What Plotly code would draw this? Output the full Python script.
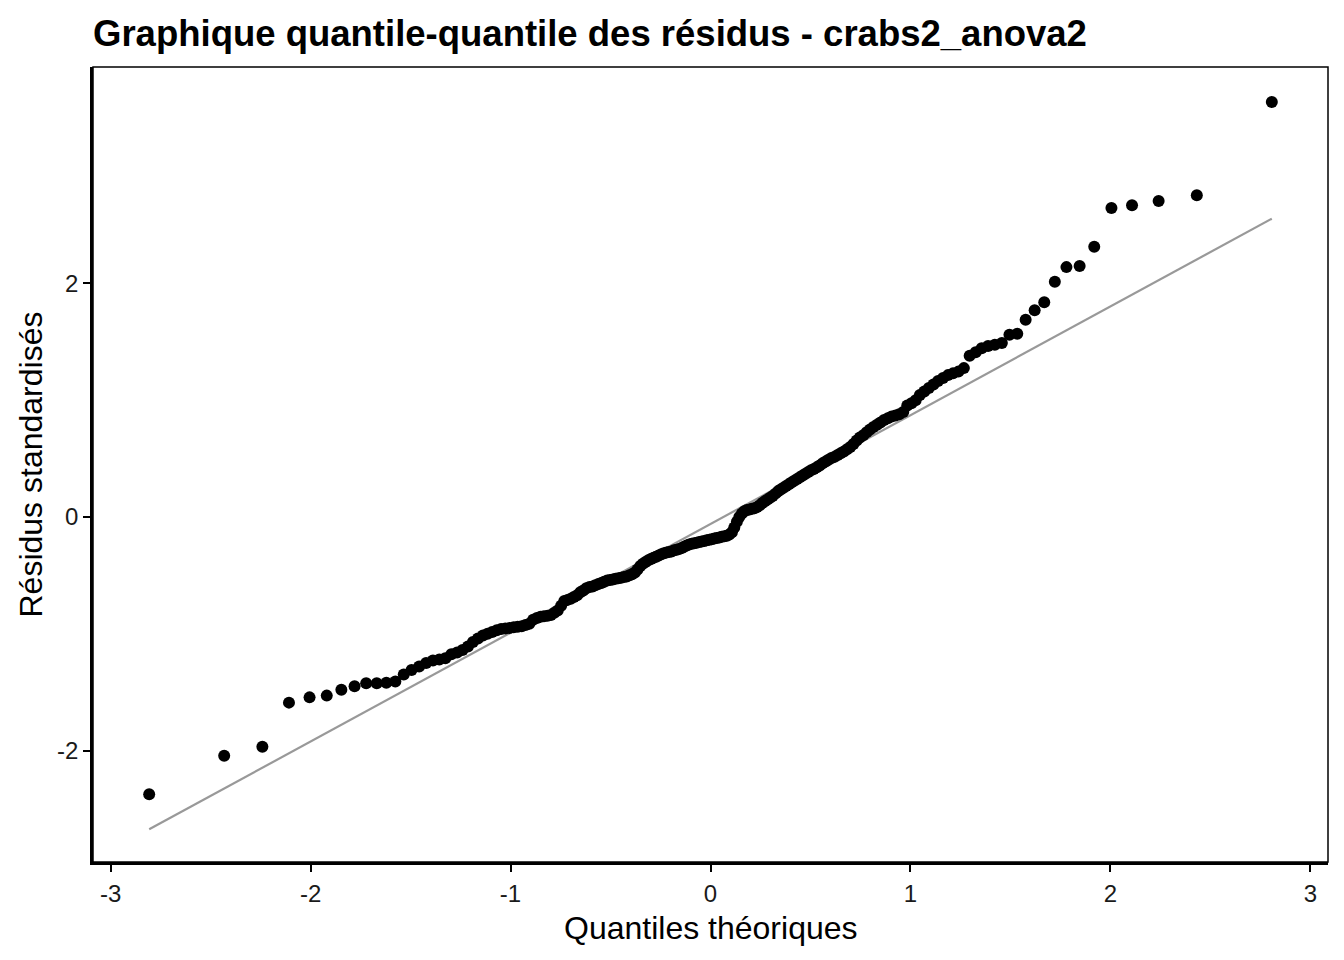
import plotly.graph_objects as go

# Theoretical normal quantiles (x) and sorted standardized residuals (y)
theoretical_quantiles = [
    -2.807, -2.432, -2.241, -2.108, -2.005, -1.919, -1.846, -1.780, -1.722, -1.669,
    -1.621, -1.576, -1.534, -1.495, -1.457, -1.422, -1.388, -1.356, -1.326, -1.296,
    -1.267, -1.240, -1.213, -1.188, -1.163, -1.138, -1.115, -1.092, -1.069, -1.047,
    -1.026, -1.005, -0.984, -0.964, -0.944, -0.925, -0.906, -0.887, -0.868, -0.850,
    -0.833, -0.815, -0.798, -0.781, -0.764, -0.747, -0.731, -0.715, -0.699, -0.683,
    -0.667, -0.651, -0.636, -0.621, -0.605, -0.590, -0.576, -0.561, -0.546, -0.532,
    -0.517, -0.503, -0.489, -0.475, -0.461, -0.447, -0.433, -0.419, -0.405, -0.392,
    -0.378, -0.365, -0.351, -0.338, -0.325, -0.311, -0.298, -0.285, -0.272, -0.259,
    -0.246, -0.233, -0.220, -0.208, -0.195, -0.182, -0.169, -0.157, -0.144, -0.132,
    -0.119, -0.107, -0.094, -0.082, -0.069, -0.056, -0.044, -0.031, -0.019, -0.006,
    0.006, 0.019, 0.031, 0.044, 0.056, 0.069, 0.082, 0.094, 0.107, 0.119,
    0.132, 0.144, 0.157, 0.169, 0.182, 0.195, 0.208, 0.220, 0.233, 0.246,
    0.259, 0.272, 0.285, 0.298, 0.311, 0.325, 0.338, 0.351, 0.365, 0.378,
    0.392, 0.405, 0.419, 0.433, 0.447, 0.461, 0.475, 0.489, 0.503, 0.517,
    0.532, 0.546, 0.561, 0.576, 0.590, 0.605, 0.621, 0.636, 0.651, 0.667,
    0.683, 0.699, 0.715, 0.731, 0.747, 0.764, 0.781, 0.798, 0.815, 0.833,
    0.850, 0.868, 0.887, 0.906, 0.925, 0.944, 0.964, 0.984, 1.005, 1.026,
    1.047, 1.069, 1.092, 1.115, 1.138, 1.163, 1.188, 1.213, 1.240, 1.267,
    1.296, 1.326, 1.356, 1.388, 1.422, 1.457, 1.495, 1.534, 1.576, 1.621,
    1.669, 1.722, 1.780, 1.846, 1.919, 2.005, 2.108, 2.241, 2.432, 2.807,
]

standardized_residuals = [
    -2.375, -2.045, -1.967, -1.59, -1.545, -1.53, -1.48, -1.45, -1.425, -1.425,
    -1.42, -1.41, -1.35, -1.31, -1.28, -1.25, -1.23, -1.22, -1.21, -1.175,
    -1.16, -1.14, -1.11, -1.07, -1.04, -1.015, -1.0, -0.985, -0.97, -0.96,
    -0.955, -0.95, -0.945, -0.94, -0.935, -0.925, -0.915, -0.88, -0.865, -0.855,
    -0.85, -0.845, -0.84, -0.82, -0.80, -0.76, -0.72, -0.71, -0.70, -0.685,
    -0.67, -0.645, -0.63, -0.61, -0.60, -0.595, -0.585, -0.575, -0.565, -0.555,
    -0.545, -0.54, -0.535, -0.53, -0.525, -0.52, -0.515, -0.51, -0.50, -0.49,
    -0.475, -0.45, -0.42, -0.40, -0.385, -0.37, -0.36, -0.35, -0.34, -0.33,
    -0.32, -0.31, -0.305, -0.30, -0.295, -0.285, -0.28, -0.275, -0.265, -0.255,
    -0.245, -0.235, -0.23, -0.225, -0.22, -0.215, -0.21, -0.205, -0.20, -0.195,
    -0.19, -0.185, -0.18, -0.175, -0.17, -0.165, -0.16, -0.15, -0.13, -0.09,
    -0.04, 0.0, 0.03, 0.05, 0.06, 0.065, 0.07, 0.075, 0.085, 0.10,
    0.12, 0.135, 0.15, 0.165, 0.18, 0.20, 0.22, 0.235, 0.25, 0.265,
    0.28, 0.295, 0.31, 0.325, 0.34, 0.355, 0.37, 0.385, 0.40, 0.41,
    0.425, 0.44, 0.46, 0.475, 0.49, 0.505, 0.515, 0.53, 0.545, 0.56,
    0.58, 0.60, 0.625, 0.655, 0.68, 0.70, 0.725, 0.75, 0.77, 0.79,
    0.81, 0.83, 0.845, 0.86, 0.87, 0.88, 0.90, 0.955, 0.975, 1.0,
    1.045, 1.075, 1.105, 1.135, 1.165, 1.19, 1.215, 1.23, 1.245, 1.275,
    1.38, 1.41, 1.445, 1.465, 1.475, 1.49, 1.56, 1.57, 1.69, 1.77,
    1.84, 2.015, 2.14, 2.15, 2.315, 2.647, 2.67, 2.707, 2.756, 3.555,
]

# Reference line (through the quartiles)
qq_line_slope = 0.9316
qq_line_intercept = -0.06

x_ticks = [-3, -2, -1, 0, 1, 2, 3]
y_ticks = [-2, 0, 2]

title_text = "Graphique quantile-quantile des résidus - crabs2_anova2"
x_title = "Quantiles théoriques"
y_title = "Résidus standardisés"

FONT = "Liberation Sans, Arial, Helvetica, sans-serif"

# page body adds an 8px offset; margins compensate so the plot sits where the reference has it
W, H = 1344, 960
ML, MT, MR, MB = 85, 59, 24, 106
plot_w = W - ML - MR
plot_h = H - MT - MB

x0 = min(theoretical_quantiles)
x1 = max(theoretical_quantiles)
line_x = [x0, x1]
line_y = [qq_line_intercept + qq_line_slope * v for v in line_x]

fig = go.Figure()
fig.add_trace(go.Scatter(
    x=line_x, y=line_y, mode="lines",
    line=dict(color="#999999", width=2.2),
    hoverinfo="skip", showlegend=False,
))
fig.add_trace(go.Scatter(
    x=theoretical_quantiles, y=standardized_residuals, mode="markers",
    marker=dict(color="black", size=12, line=dict(width=0)),
    showlegend=False,
))

fig.update_layout(
    width=W, height=H,
    paper_bgcolor="white", plot_bgcolor="white",
    margin=dict(l=ML, r=MR, t=MT, b=MB),
    font=dict(family=FONT, color="black"),
    title=dict(
        text="<b>" + title_text + "</b>",
        font=dict(family=FONT, size=36.5, color="black"),
        x=(93 - 8) / W, xref="container", xanchor="left",
        y=1 - (33 - 8) / H, yref="container", yanchor="middle",
    ),
    xaxis=dict(
        range=[-3.088, 3.088],
        tickvals=x_ticks, ticktext=[str(v) for v in x_ticks],
        ticks="outside", ticklen=7, tickwidth=1.5, tickcolor="black",
        ticklabelstandoff=1,
        showgrid=False, zeroline=False,
        showline=True, linecolor="black", linewidth=2.5,
        tickfont=dict(family=FONT, size=24, color="#1a1a1a"),
    ),
    yaxis=dict(
        range=[-2.955, 3.854],
        tickvals=y_ticks, ticktext=[str(v) for v in y_ticks],
        ticks="outside", ticklen=7, tickwidth=1.5, tickcolor="black",
        ticklabelstandoff=0,
        showgrid=False, zeroline=False,
        showline=True, linecolor="black", linewidth=2.5,
        tickfont=dict(family=FONT, size=24, color="#1a1a1a"),
    ),
    annotations=[
        dict(text=x_title, xref="paper", yref="paper", x=0.5, y=-66 / plot_h,
             xanchor="center", yanchor="middle", showarrow=False,
             font=dict(family=FONT, size=32, color="black")),
        dict(text=y_title, xref="paper", yref="paper", x=-(93 - 30) / plot_w, y=0.5,
             xanchor="center", yanchor="middle", showarrow=False, textangle=-90,
             font=dict(family=FONT, size=32, color="black")),
    ],
    shapes=[dict(
        type="rect", xref="paper", yref="paper", x0=0, y0=0, x1=1, y1=1,
        line=dict(color="black", width=1.5), fillcolor="rgba(0,0,0,0)", layer="above",
    )],
)

fig.write_html("out.html")
